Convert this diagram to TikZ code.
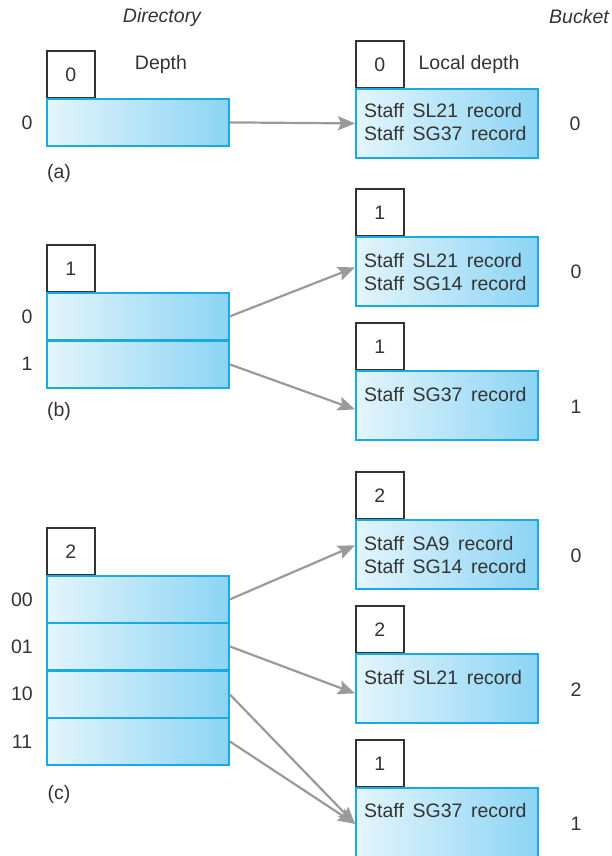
\documentclass[tikz,border=0pt]{standalone}
\usepackage{fontspec}
\setmainfont{Liberation Sans}
\usetikzlibrary{arrows.meta}
\definecolor{barL}{HTML}{E3F5FC}
\definecolor{barR}{HTML}{8CD4F4}
\definecolor{barB}{HTML}{1AAAE2}
\definecolor{arrG}{HTML}{9A9A9C}
\definecolor{txt}{HTML}{333333}
\tikzset{
  fnt/.style={font=\fontsize{19.5}{23}\selectfont, text=txt},
  dbox/.style={draw=txt, line width=1.8pt, minimum width=48pt, minimum height=47pt, anchor=north west, inner sep=0pt, fnt},
  bar/.style={draw=barB, line width=1.8pt, left color=barL, right color=barR, minimum width=182pt, minimum height=47pt, anchor=north west, inner sep=0pt},
  bucket/.style={draw=barB, line width=1.8pt, left color=barL, right color=barR, minimum width=182pt, minimum height=69pt, anchor=north west, inner sep=0pt},
  rec/.style={fnt, align=left, anchor=north west, inner sep=0pt},
  lbl/.style={fnt, inner sep=0pt},
  arr/.style={draw=arrG, line width=2.2pt, -{Stealth[length=17pt,width=14pt,inset=3pt]}},
}
\begin{document}
\begin{tikzpicture}[x=1pt,y=-1pt]
\useasboundingbox (0,0) rectangle (612,856);
\clip (0,0) rectangle (612,856);
% headers
\node[lbl, font=\fontsize{19.5}{23}\selectfont\itshape] (hdir) at (162,17) {Directory};
\node[lbl, font=\fontsize{19.5}{23}\selectfont\itshape] (hbuck) at (579,17) {Bucket};

% ---------- (a) ----------
\node[dbox] (ad) at (46,50) {0};
\node[lbl] (adepth) at (161,64) {Depth};
\node[bar] (a0) at (46,98) {};
\node[lbl] (al0) at (27,123) {0};
\node[lbl] (acap) at (59,173) {(a)};
\node[dbox] (bad) at (355,40) {0};
\node[lbl] (ald) at (469,64) {Local depth};
\node[bucket] (ba0) at (355,88) {};
\node[rec] (ra0) at (364,103) {Staff\, SL21\, record\\Staff\, SG37\, record};
\node[lbl] (bal0) at (575,124) {0};
\draw[arr] (a0.east) -- (ba0.west);

% ---------- (b) ----------
\node[dbox] (bd) at (46,244) {1};
\node[bar] (b0) at (46,292) {};
\node[bar] (b1) at (46,340) {};
\node[lbl] (bl0) at (27,317) {0};
\node[lbl] (bl1) at (27,364) {1};
\node[lbl] (bcap) at (59,411) {(b)};
\node[dbox] (bbd0) at (355,188) {1};
\node[bucket] (bb0) at (355,236) {};
\node[rec] (rb0) at (364,253) {Staff\, SL21\, record\\Staff\, SG14\, record};
\node[lbl] (bbl0) at (576,272) {0};
\node[dbox] (bbd1) at (355,322) {1};
\node[bucket] (bb1) at (355,370) {};
\node[rec] (rb1) at (364,387) {Staff\, SG37\, record};
\node[lbl] (bbl1) at (576,407) {1};
\draw[arr] (b0.east) -- ([yshift=4pt]bb0.west);
\draw[arr] (b1.east) -- ([yshift=-4pt]bb1.west);

% ---------- (c) ----------
\node[dbox] (cd) at (46,527) {2};
\node[bar] (c0) at (46,575) {};
\node[bar] (c1) at (46,622) {};
\node[bar] (c2) at (46,670) {};
\node[bar] (c3) at (46,717) {};
\node[lbl] (cl0) at (22,600) {00};
\node[lbl] (cl1) at (22,647) {01};
\node[lbl] (cl2) at (22,694) {10};
\node[lbl] (cl3) at (22,742) {11};
\node[lbl] (ccap) at (59,794) {(c)};
\node[dbox] (cbd0) at (355,471) {2};
\node[bucket] (cb0) at (355,519) {};
\node[rec] (rc0) at (364,536) {Staff\, SA9\, record\\Staff\, SG14\, record};
\node[lbl] (cbl0) at (576,556) {0};
\node[dbox] (cbd2) at (355,605) {2};
\node[bucket] (cb2) at (355,653) {};
\node[rec] (rc2) at (364,670) {Staff\, SL21\, record};
\node[lbl] (cbl2) at (576,690) {2};
\node[dbox] (cbd1) at (355,739) {1};
\node[bucket, minimum height=80pt] (cb1) at (355,787) {};
\node[rec] (rc1) at (364,803) {Staff\, SG37\, record};
\node[lbl] (cbl1) at (576,824) {1};
\draw[arr] (c0.east) -- ([yshift=9pt]cb0.west);
\draw[arr] (c1.east) -- ([yshift=-5pt]cb2.west);
\draw[arr] (c2.east) -- ([yshift=4pt]cb1.west);
\draw[arr] (c3.east) -- ([yshift=4pt]cb1.west);
\end{tikzpicture}
\end{document}
